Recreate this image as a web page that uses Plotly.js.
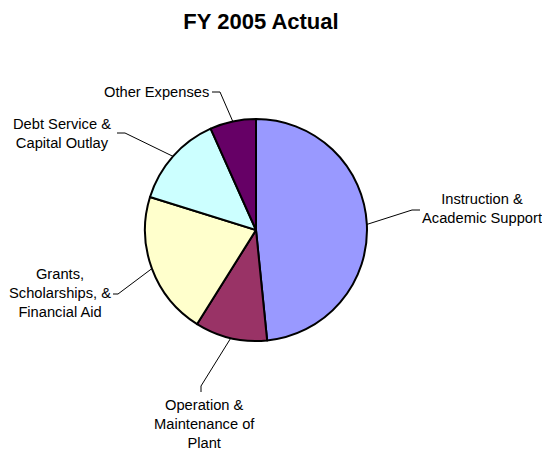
<!DOCTYPE html>
<html>
<head>
<meta charset="utf-8">
<script src="https://cdn.plot.ly/plotly-3.0.1.min.js"></script>
<style>html,body{margin:0;padding:0;background:#fff;}#chart{width:542px;height:451px;}</style>
</head>
<body>
<div id="chart"></div>
<script>
// Data (percent of total)
var categories = [
  "Instruction &<br>Academic Support",
  "Operation &<br>Maintenance of<br>Plant",
  "Grants,<br>Scholarships, &<br>Financial Aid",
  "Debt Service &<br>Capital Outlay",
  "Other Expenses"
];
var values = [48.4, 10.5, 20.9, 13.5, 6.7];
var colors = ["#9999FF", "#993366", "#FFFFCC", "#CCFFFF", "#660066"];

// Layout / label placement (pixels)
var W = 542, H = 451;
var cx = 256, cy = 230, R = 111;
var labelPos = [
  {x: 482, y: 209, anchor: "center", bend: [412, 210], end: [420, 210]},
  {x: 204, y: 424, anchor: "center", bend: [201, 386], end: [201, 392]},
  {x: 60,  y: 293, anchor: "center", bend: [118, 294], end: [113, 294]},
  {x: 62,  y: 133, anchor: "center", bend: [125, 133], end: [117, 133]},
  {x: 211, y: 92,  anchor: "right",  bend: [220, 92],  end: [212, 92]}
];

function px(x){ return x / W; }
function py(y){ return 1 - y / H; }

var total = values.reduce(function(a,b){return a+b;}, 0);
var shapes = [], annotations = [];
var cum = 0;
for (var i = 0; i < values.length; i++) {
  var mid = (cum + values[i] / 2) / total * 2 * Math.PI;
  cum += values[i];
  var sx = cx + R * Math.sin(mid), sy = cy - R * Math.cos(mid);
  var lp = labelPos[i];
  shapes.push({type: "line", xref: "paper", yref: "paper",
    x0: px(sx), y0: py(sy), x1: px(lp.bend[0]), y1: py(lp.bend[1]),
    line: {color: "#000", width: 1}});
  shapes.push({type: "line", xref: "paper", yref: "paper",
    x0: px(lp.bend[0]), y0: py(lp.bend[1]), x1: px(lp.end[0]), y1: py(lp.end[1]),
    line: {color: "#000", width: 1}});
  annotations.push({xref: "paper", yref: "paper", x: px(lp.x), y: py(lp.y),
    xanchor: lp.anchor, yanchor: "middle", align: "center", showarrow: false,
    text: categories[i],
    font: {family: "Liberation Sans, Arial, sans-serif", size: 14.7, color: "#000"}});
}

var trace = {
  type: "pie",
  values: values,
  labels: categories,
  sort: false,
  direction: "clockwise",
  rotation: 0,
  textinfo: "none",
  hoverinfo: "none",
  showlegend: false,
  marker: {colors: colors, line: {color: "#000", width: 2}},
  domain: {x: [px(cx - R), px(cx + R)], y: [py(cy + R), py(cy - R)]}
};

var layout = {
  width: W, height: H,
  margin: {l: 0, r: 0, t: 0, b: 0},
  paper_bgcolor: "#fff",
  title: {text: "<b>FY 2005 Actual</b>", x: 261/W, xanchor: "center", y: 1 - 21/H, yanchor: "middle",
    font: {family: "Liberation Sans, Arial, sans-serif", size: 22, color: "#000"}},
  shapes: shapes,
  annotations: annotations
};

Plotly.newPlot("chart", [trace], layout, {staticPlot: true, displayModeBar: false});
</script>
</body>
</html>
